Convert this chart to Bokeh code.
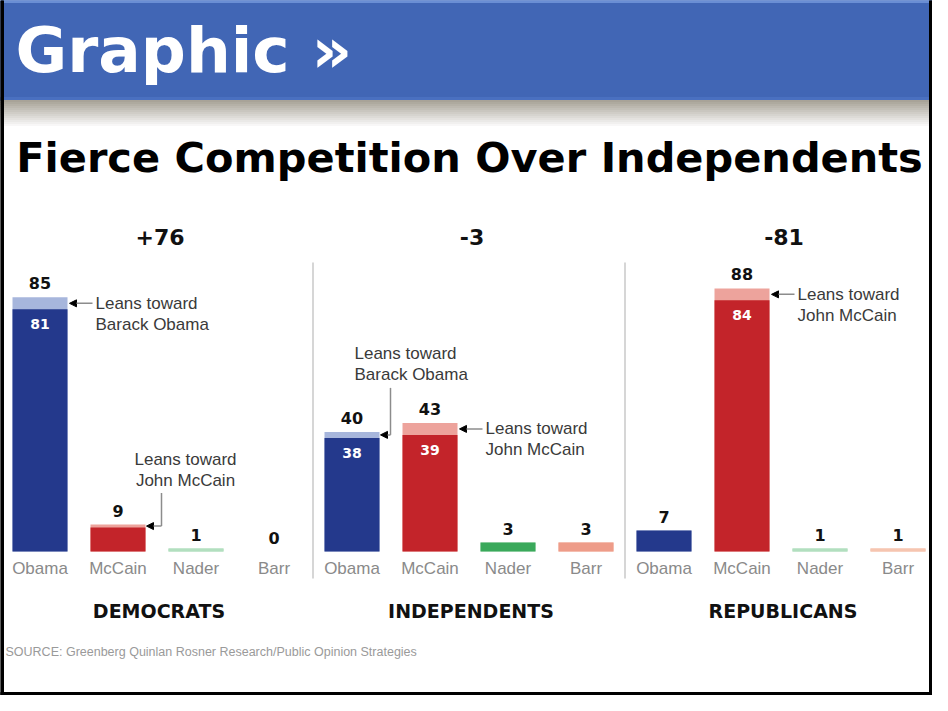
from bokeh.plotting import figure
from bokeh.models import Range1d, Arrow, NormalHead
from bokeh.core.properties import value
from bokeh.embed import file_html
from bokeh.resources import INLINE

# ---------------- data ----------------
groups = ["DEMOCRATS", "INDEPENDENTS", "REPUBLICANS"]
candidates = ["Obama", "McCain", "Nader", "Barr"]
net_labels = ["+76", "-3", "-81"]
dem_total = [85, 9, 1, 0]
dem_firm = [81, 8, 1, 0]
ind_total = [40, 43, 3, 3]
ind_firm = [38, 39, 3, 3]
rep_total = [7, 88, 1, 1]
rep_firm = [7, 84, 1, 1]
header_text = "Graphic \u00bb"
title_text = "Fierce Competition Over Independents"
source_note = "SOURCE: Greenberg Quinlan Rosner Research/Public Opinion Strategies"
lean_obama = ["Leans toward", "Barack Obama"]
lean_mccain = ["Leans toward", "John McCain"]

# ---------------- styles ----------------
firm_colors = {
    "Obama": ["#24398c", "#24398c", "#24398c"],
    "McCain": ["#c3242a", "#c3242a", "#c3242a"],
    "Nader": ["#b2dfbf", "#3aa95b", "#b2dfbf"],
    "Barr": ["#f5c0ab", "#ee9c89", "#f6c5b0"],
}
lean_colors = {"Obama": "#a7b6dc", "McCain": "#eda39c", "Nader": "#b2dfbf", "Barr": "#f5c0ab"}

# layout mapping (reference pixel -> data units)
PX, PY = 78.0, 2.99
X0, Y0 = 47.5, 559.0
def X(xr): return (xr - X0) / PX
def Y(yr): return (Y0 - yr) / PY
def dx(px): return px / PX
def dy(px): return px / PY
BW = 55.0 / PX

W, H = 932, 695
p = figure(width=W, height=H, x_range=Range1d(X(8), X(8 + W)), y_range=Range1d(Y(8 + H), Y(8)),
           output_backend="svg", toolbar_location=None, x_axis_type=None, y_axis_type=None,
           min_border=0)
p.outline_line_color = None
p.grid.visible = False
p.background_fill_color = "white"
p.border_fill_color = "white"

SANS = value("Liberation Sans")
HEAVY = value("DejaVu Sans")

# header band and shadow
p.quad(left=X(8), right=X(940), top=Y(8), bottom=Y(108), color="#4166b5")
p.quad(left=X(8), right=X(940), top=Y(8), bottom=Y(10), color="#6a8ed4")
p.quad(left=X(8), right=X(940), top=Y(105), bottom=Y(108), color="#4a70c0")
for k in range(14):
    t = k / 13.0
    c = tuple(int(a + (255 - a) * t) for a in (168, 163, 152))
    p.quad(left=X(8), right=X(940), top=Y(108 + 2 * k), bottom=Y(110 + 2 * k),
           color="#%02x%02x%02x" % c)
# frame
p.quad(left=X(8), right=X(11), top=Y(8), bottom=Y(703), color="black")
p.quad(left=X(937), right=X(940), top=Y(8), bottom=Y(703), color="black")
p.quad(left=X(8), right=X(940), top=Y(700), bottom=Y(703), color="black")

p.text(x=[X(23)], y=[Y(58)], text=[header_text], text_font=HEAVY, text_font_style="bold",
       text_font_size="63px", text_color="white", text_baseline="middle", text_align="left")
p.text(x=[X(477)], y=[Y(165)], text=[title_text], text_font=HEAVY, text_font_style="bold",
       text_font_size="41.5px", text_color="black", text_baseline="middle", text_align="center")

totals = [dem_total, ind_total, rep_total]
firms = [dem_firm, ind_firm, rep_firm]

xs, tops, firm_tops, fcols, lcols, cats = [], [], [], [], [], []
for g in range(3):
    for c, cand in enumerate(candidates):
        xs.append(g * 4 + c)
        tops.append(totals[g][c])
        firm_tops.append(firms[g][c])
        fcols.append(firm_colors[cand][g])
        lcols.append(lean_colors[cand])
        cats.append(cand)

p.vbar(x=xs, top=tops, bottom=0, width=BW, fill_color=lcols, line_color=None)
p.vbar(x=xs, top=firm_tops, bottom=0, width=BW, fill_color=fcols, line_color=None)

# value labels above bars
p.text(x=xs, y=[t + dy(14) for t in tops], text=[str(t) for t in tops], text_font=HEAVY,
       text_font_style="bold", text_font_size="16px", text_color="#111",
       text_align="center", text_baseline="middle")
# firm labels inside bars
ix = [x for x, t, f in zip(xs, tops, firm_tops) if t != f and f > 20]
iv = [f for t, f in zip(tops, firm_tops) if t != f and f > 20]
p.text(x=ix, y=[v - dy(15) for v in iv], text=[str(v) for v in iv], text_font=HEAVY,
       text_font_style="bold", text_font_size="14px", text_color="white",
       text_align="center", text_baseline="middle")
# category labels
p.text(x=xs, y=[Y(576)] * len(xs), text=cats, text_font=SANS, text_font_size="17px",
       text_color="#8a8a8a", text_align="center", text_baseline="middle")

gx = [g * 4 + 1.5 for g in range(3)]
p.text(x=[x + dx(2) for x in gx], y=[Y(618)] * 3, text=groups, text_font=HEAVY, text_font_style="bold",
       text_font_size="19px", text_color="#111", text_align="center", text_baseline="middle")
p.text(x=[x + dx(3) for x in gx], y=[Y(244)] * 3, text=net_labels, text_font=HEAVY, text_font_style="bold",
       text_font_size="22px", text_color="#111", text_align="center", text_baseline="middle")

# separators
p.segment(x0=[3.5, 7.5], x1=[3.5, 7.5], y0=[Y(270)] * 2, y1=[Y(586)] * 2,
          line_color="#d6d6d6", line_width=2)

# leaner annotations
def head():
    return NormalHead(size=7, fill_color="black", line_color="black")

side_notes = [(0, 0, lean_obama), (1, 1, lean_mccain), (2, 1, lean_mccain)]
for g, c, lines in side_notes:
    i = g * 4 + c
    mid = (totals[g][c] + firms[g][c]) / 2.0
    right = i + BW / 2
    p.add_layout(Arrow(end=head(), x_start=right + dx(25), y_start=mid, x_end=right + dx(2), y_end=mid,
                       line_color="#8c8c8c", line_width=1.5))
    for k, s in enumerate(lines):
        p.text(x=[right + dx(28)], y=[mid - dy(21 * k)], text=[s], text_font=SANS,
               text_font_size="17px", text_color="#3a3a3a", text_align="left", text_baseline="middle")

# elbow notes: (group, cand, elbow px, rise px, text x offset px, align)
elbow_notes = [(0, 1, 16, 33, 40, "center", lean_mccain), (1, 0, 11, 47, -25, "left", lean_obama)]
for g, c, ex, rise, tx, align, lines in elbow_notes:
    i = g * 4 + c
    mid = (totals[g][c] + firms[g][c]) / 2.0
    right = i + BW / 2
    p.line(x=[right + dx(ex), right + dx(ex)], y=[mid, mid + dy(rise)], line_color="#8c8c8c", line_width=1.5)
    p.add_layout(Arrow(end=head(), x_start=right + dx(ex), y_start=mid, x_end=right + dx(1), y_end=mid,
                       line_color="#8c8c8c", line_width=1.5))
    top = mid + dy(rise)
    for k, s in enumerate(lines):
        p.text(x=[right + dx(tx)], y=[top + dy(13 + 21 * (1 - k))], text=[s], text_font=SANS,
               text_font_size="17px", text_color="#3a3a3a", text_align=align, text_baseline="middle")

p.text(x=[X(13)], y=[Y(659)], text=[source_note], text_font=SANS, text_font_size="12.5px",
       text_color="#9a9a9a", text_align="left", text_baseline="middle")

open("out.html", "w").write(file_html(p, INLINE))
